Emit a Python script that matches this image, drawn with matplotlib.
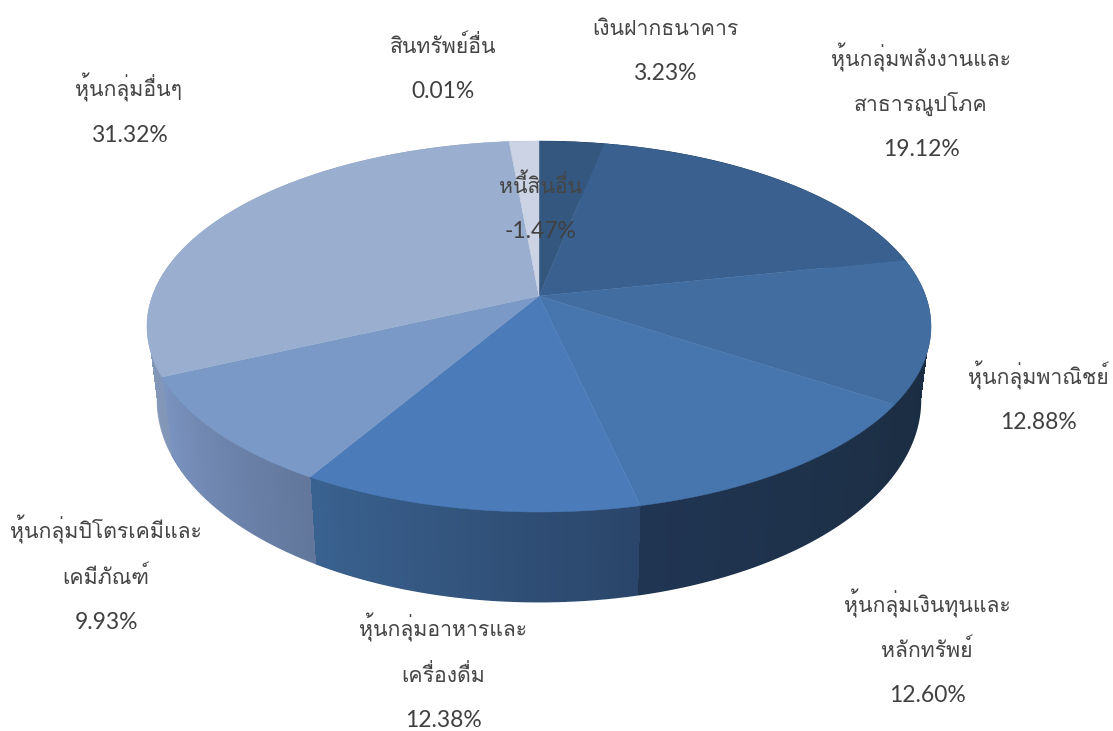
import numpy as np
import matplotlib
matplotlib.use("Agg")
import matplotlib.pyplot as plt
from matplotlib.collections import PolyCollection
from matplotlib.colors import to_rgb

# allocation, clockwise from 12 o'clock
labels = [
    "เงินฝากธนาคาร",
    "หุ้นกลุ่มพลังงานและ\nสาธารณูปโภค",
    "หุ้นกลุ่มพาณิชย์",
    "หุ้นกลุ่มเงินทุนและ\nหลักทรัพย์",
    "หุ้นกลุ่มอาหารและ\nเครื่องดื่ม",
    "หุ้นกลุ่มปิโตรเคมีและ\nเคมีภัณฑ์",
    "หุ้นกลุ่มอื่นๆ",
    "สินทรัพย์อื่น",
    "หนี้สินอื่น",
]
values = [3.23, 19.12, 12.88, 12.60, 12.38, 9.93, 31.32, 0.01, -1.47]

top_colors = ["#34577f", "#39608f", "#426da0", "#4776af", "#4b7cb9",
              "#7a99c6", "#9aafcf", "#b5c3dc", "#cbd3e4"]
side_left = ["#1a2c40", "#1a2c40", "#1b2e44", "#203552", "#3a6290",
             "#7a93c0", "#8fa2c4", "#8fa2c4", "#8fa2c4"]
side_right = ["#1a2c40", "#1a2c40", "#1a2c40", "#1c2f45", "#2a4569",
              "#62779b", "#8296b8", "#8fa2c4", "#8fa2c4"]

# label anchor (x centre, first baseline), pixels
label_pos = [(665, 35), (921, 66), (1038, 384), (927, 612), (443, 637),
             (106, 539), (129, 97), (443, 53), (541, 193)]
line_step = 45

# pie geometry in pixels
cx, cy = 539, 296
R, H, k = 386.7, 180.5, 0.1644
bot_cy, bot_sx, bot_sy = 367, 0.975, 1.09


def rim(t):
    # perspective projection of the unit circle, t clockwise from the back
    X, Y = np.sin(t), np.cos(t)
    s = 1 / (1 + k * Y)
    return R * X * s, -H * Y * s


def strip_points(t, shrink=1.0):
    dx, dy = rim(t)
    return (cx + shrink * dx, cy + shrink * dy,
            cx + shrink * bot_sx * dx, bot_cy + shrink * bot_sy * dy)


fig = plt.figure(figsize=(11.13, 7.31), dpi=100)
ax = fig.add_axes([0, 0, 1, 1])
ax.set_xlim(0, 1113)
ax.set_ylim(731, 0)
ax.axis("off")

sizes = np.abs(values)
edges = np.concatenate([[0], np.cumsum(sizes)]) / sizes.sum() * 2 * np.pi

# smooth outline of the wall, one flat piece per slice
for i in range(len(values)):
    ts = np.linspace(edges[i], edges[i + 1], 200)
    xt, yt, xb, yb = strip_points(ts)
    mid = 0.5 * (np.array(to_rgb(side_left[i])) + np.array(to_rgb(side_right[i])))
    ax.fill(np.concatenate([xt, xb[::-1]]), np.concatenate([yt, yb[::-1]]), color=mid, lw=0, zorder=1)

# gradient on the wall, not antialiased so the strips leave no seams
polys, cols, depth = [], [], []
for i in range(len(values)):
    n = max(2, int((edges[i + 1] - edges[i]) * 120))
    ts = np.linspace(edges[i], edges[i + 1], n + 1)
    xt, yt, xb, yb = strip_points(ts, shrink=0.996)
    for j in range(n):
        polys.append([(xt[j], yt[j]), (xt[j + 1], yt[j + 1]), (xb[j + 1], yb[j + 1]), (xb[j], yb[j])])
        f = j / max(n - 1, 1)
        # clockwise runs right to left along the front
        c = (1 - f) * np.array(to_rgb(side_right[i])) + f * np.array(to_rgb(side_left[i]))
        cols.append(c)
        depth.append(np.cos(ts[j]))
order = np.argsort(depth)[::-1]
ax.add_collection(PolyCollection([polys[o] for o in order], facecolors=[cols[o] for o in order],
                                 edgecolors="none", linewidths=0, antialiaseds=False, zorder=2))

# top face
for i in range(len(values)):
    ts = np.linspace(edges[i], edges[i + 1], 200)
    dx, dy = rim(ts)
    xs = np.concatenate([[cx], cx + dx])
    ys = np.concatenate([[cy], cy + dy])
    ax.fill(xs, ys, color=top_colors[i], lw=0.3, zorder=3)

# labels
for name, v, (x, y) in zip(labels, values, label_pos):
    lines = name.split("\n")
    for n, line in enumerate(lines):
        ax.text(x, y + n * line_step, line, ha="center", va="baseline", color="#454545",
                family=["Loma", "Lato"], fontsize=15.3, zorder=5)
    ax.text(x, y + len(lines) * line_step, f"{v:.2f}%", ha="center", va="baseline", color="#404040",
            family=["Lato"], fontsize=16.5, zorder=5)

fig.savefig("out.png", dpi=100)
